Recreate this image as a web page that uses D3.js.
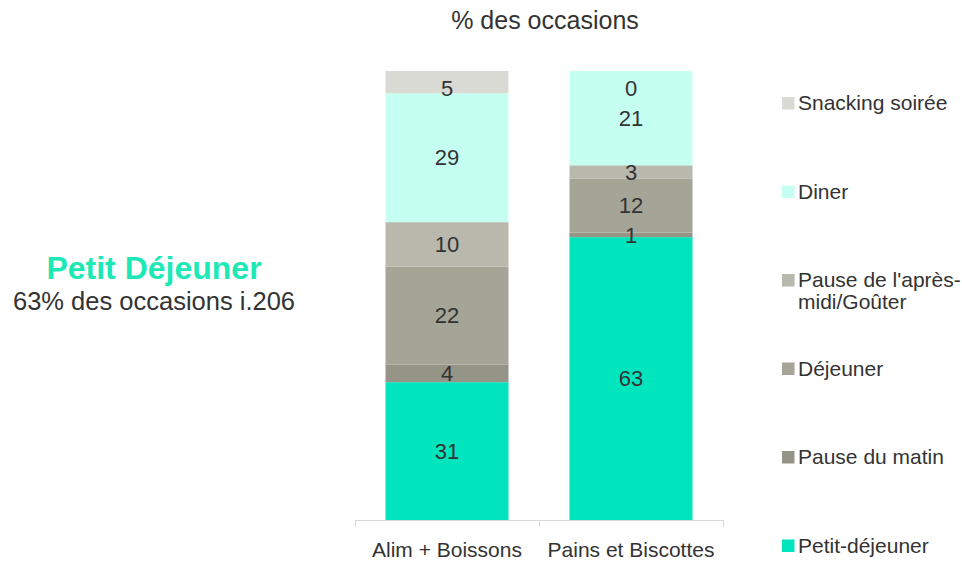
<!DOCTYPE html>
<html>
<head>
<meta charset="utf-8">
<script src="https://cdn.jsdelivr.net/npm/d3@7"></script>
<style>
  body { margin: 0; background: #fff; }
  svg { display: block; font-family: "Liberation Sans", Arial, sans-serif; }
</style>
</head>
<body>
<svg id="chart" width="962" height="561"></svg>
<script>
// Occasions de consommation, en % des occasions
const categories = ["Alim + Boissons", "Pains et Biscottes"];
const seriesNames = ["Petit-déjeuner", "Pause du matin", "Déjeuner", "Pause de l'après-midi/Goûter", "Diner", "Snacking soirée"];
const petitDejeuner = [31, 63];
const pauseMatin = [4, 1];
const dejeuner = [22, 12];
const pauseAprem = [10, 3];
const diner = [29, 21];
const snackingSoiree = [5, 0];
const seriesColors = ["#00E5BE", "#959587", "#A5A597", "#B8B8AC", "#C5FFF2", "#D9DAD3"];
const legendLines = [["Petit-déjeuner"], ["Pause du matin"], ["Déjeuner"], ["Pause de l'après-", "midi/Goûter"], ["Diner"], ["Snacking soirée"]];

const seriesValues = [petitDejeuner, pauseMatin, dejeuner, pauseAprem, diner, snackingSoiree];
const rows = categories.map((c, i) => {
  const r = { category: c };
  seriesNames.forEach((s, k) => { r[s] = seriesValues[k][i]; });
  return r;
});

const svg = d3.select("#chart");

const x = d3.scaleBand().domain(categories).range([355, 723]).paddingInner(0).paddingOuter(0);
const barW = 123;
const y = d3.scaleLinear().domain([0, 1]).range([520, 71]);

const stack = d3.stack().keys(seriesNames).offset(d3.stackOffsetExpand);
const layers = stack(rows);

const color = d3.scaleOrdinal().domain(seriesNames).range(seriesColors);

// Bars
const g = svg.append("g");
layers.forEach(layer => {
  g.selectAll(null).data(layer).enter().append("rect")
    .attr("x", d => x(d.data.category) + (x.bandwidth() - barW) / 2)
    .attr("width", barW)
    .attr("y", d => y(d[1]))
    .attr("height", d => y(d[0]) - y(d[1]))
    .attr("fill", color(layer.key));
});

// Value labels
layers.forEach(layer => {
  g.selectAll(null).data(layer).enter().append("text")
    .attr("x", d => x(d.data.category) + x.bandwidth() / 2)
    .attr("y", d => Math.max((y(d[0]) + y(d[1])) / 2, y(1) + 17))
    .attr("dy", "0.35em")
    .attr("text-anchor", "middle")
    .attr("font-size", 22)
    .attr("fill", "#333")
    .text(d => d.data[layer.key]);
});

// Category axis
const axis = svg.append("g").attr("transform", "translate(0,520)");
axis.append("line").attr("x1", 355).attr("x2", 723).attr("y1", 0.5).attr("y2", 0.5)
  .attr("stroke", "#D9D9D9").attr("stroke-width", 1);
const tickPos = [355, ...categories.map(c => x(c) + x.bandwidth())];
axis.selectAll(null).data(tickPos).enter().append("line")
  .attr("x1", d => Math.round(d) + 0.5).attr("x2", d => Math.round(d) + 0.5)
  .attr("y1", 0).attr("y2", 7)
  .attr("stroke", "#D9D9D9");
axis.selectAll(null).data(categories).enter().append("text")
  .attr("x", d => x(d) + x.bandwidth() / 2)
  .attr("y", 37)
  .attr("text-anchor", "middle")
  .attr("font-size", 21)
  .attr("fill", "#333")
  .text(d => d);

// Title
svg.append("text").attr("x", 545).attr("y", 29)
  .attr("text-anchor", "middle").attr("font-size", 25).attr("fill", "#333")
  .text("% des occasions");

// Side annotation
svg.append("text").attr("x", 154).attr("y", 279)
  .attr("text-anchor", "middle").attr("font-size", 32).attr("font-weight", "bold")
  .attr("fill", "#1DE9B6").text("Petit Déjeuner");
svg.append("text").attr("x", 154).attr("y", 310)
  .attr("text-anchor", "middle").attr("font-size", 25.5).attr("fill", "#333")
  .text("63% des occasions i.206");

// Legend (top item = last series)
const legendY = d3.scalePoint().domain(seriesNames.slice().reverse()).range([103, 545.5]);
const legend = svg.append("g");
seriesNames.forEach((s, k) => {
  const yy = legendY(s);
  legend.append("rect").attr("x", 782).attr("y", yy - 6).attr("width", 12.5).attr("height", 12.5)
    .attr("fill", seriesColors[k]);
  legendLines[k].forEach((line, j) => {
    legend.append("text").attr("x", 798).attr("y", yy + j * 22).attr("dy", "0.35em")
      .attr("font-size", 21).attr("fill", "#333").text(line);
  });
});
</script>
</body>
</html>
